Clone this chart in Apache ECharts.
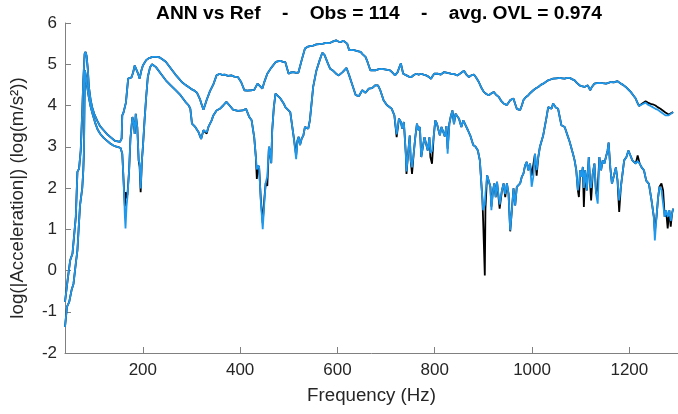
<!DOCTYPE html>
<html>
<head>
<meta charset="utf-8">
<script src="https://cdn.jsdelivr.net/npm/echarts@6/dist/echarts.min.js"></script>
<style>
  html, body { margin: 0; padding: 0; background: #ffffff; }
  #chart { width: 678px; height: 414px; }
</style>
</head>
<body>
<div id="chart"></div>
<script>
// Upper response curve: frequency (Hz), reference and ANN prediction, log10 |acceleration|
const freqUpper = [40, 45.3, 50.7, 55.4, 62.2, 65.5, 68.9, 72.3, 75.6, 77.6, 80.3, 82.3, 84.4, 87.1, 89.1, 92.5, 95.8, 100, 105.9, 112, 119.4, 126, 132.9, 143, 153, 156.4, 157.7, 160, 163.1, 165.2, 169.8, 176.6, 180, 183.3, 186.7, 190, 193.4, 197, 200.1, 206.8, 213, 220.3, 227, 233.8, 240, 247.2, 253, 260.7, 267, 274.2, 280, 287.5, 294, 301, 306, 311.2, 317.8, 321, 324.6, 328, 331.3, 338, 344.9, 351.5, 358.2, 363, 368.3, 375, 381.8, 388, 395.3, 402, 408.7, 415, 422.2, 428.9, 435.7, 439, 445.7, 450, 455.8, 463, 472.7, 477, 482.8, 488, 492.9, 496, 499.6, 504, 509.7, 515, 519.8, 526.5, 533.2, 538, 543.3, 550, 556.8, 563, 570.3, 577, 583.7, 590, 597.2, 602, 607.3, 612, 616, 620, 624.1, 629, 634.2, 641, 647.6, 652, 657.7, 662, 667.8, 672, 677.9, 685, 691.4, 700, 708.2, 713, 718.3, 723.7, 727, 730.4, 733, 735.1, 741.9, 747, 752, 757, 762.1, 767, 772.2, 777, 782.2, 787, 792.3, 796, 799, 805.8, 812.5, 819.4, 826, 833, 840, 846.5, 853, 860.1, 865, 870.3, 875, 880.5, 885, 890.6, 895, 900.8, 906, 911, 916, 921.2, 926, 931.4, 936, 941.5, 948.3, 955.1, 961.9, 965, 968.7, 975.5, 979, 982.3, 987, 992.4, 997, 1002.6, 1008, 1012.8, 1018, 1023, 1028, 1033.2, 1038, 1043.3, 1050, 1056.9, 1062, 1067.1, 1072, 1077.3, 1082, 1087.5, 1092, 1097.6, 1102, 1107.8, 1111, 1114.6, 1119.4, 1123, 1128.2, 1133, 1138.4, 1145, 1152, 1157, 1162.1, 1168, 1175.7, 1182.5, 1187, 1192.7, 1197, 1202.8, 1208, 1213, 1216, 1219.8, 1226.6, 1233.4, 1238, 1243.6, 1248, 1253.7, 1258, 1263.9, 1268, 1274.1, 1278, 1280.9, 1285, 1290];
const refUpper = [-0.76, -0.24, 0.25, 0.41, 1.30, 2.39, 2.47, 2.91, 3.90, 4.60, 5.25, 5.30, 5.20, 4.85, 4.45, 4.15, 3.96, 3.80, 3.64, 3.50, 3.40, 3.31, 3.24, 3.14, 3.12, 3.20, 3.76, 3.82, 3.80, 4.07, 4.65, 4.68, 4.80, 4.97, 4.93, 4.78, 4.65, 4.85, 4.97, 5.10, 5.15, 5.18, 5.18, 5.17, 5.12, 5.06, 4.97, 4.85, 4.75, 4.65, 4.57, 4.50, 4.45, 4.39, 4.36, 4.31, 4.14, 4.02, 3.90, 4.02, 4.14, 4.35, 4.51, 4.73, 4.77, 4.74, 4.75, 4.72, 4.73, 4.70, 4.69, 4.57, 4.37, 4.36, 4.37, 4.38, 4.53, 4.49, 4.41, 4.58, 4.77, 4.90, 5.05, 5.07, 5.08, 5.06, 5.05, 4.92, 4.77, 4.80, 4.81, 4.79, 4.80, 5.10, 5.38, 5.42, 5.44, 5.45, 5.48, 5.49, 5.50, 5.52, 5.51, 5.55, 5.58, 5.55, 5.54, 5.57, 5.56, 5.50, 5.34, 5.35, 5.34, 5.32, 5.30, 5.24, 5.18, 5.05, 4.85, 4.86, 4.85, 4.88, 4.89, 4.87, 4.85, 4.80, 4.73, 4.81, 4.92, 5.02, 4.88, 4.77, 4.73, 4.70, 4.69, 4.74, 4.77, 4.75, 4.77, 4.75, 4.73, 4.70, 4.65, 4.72, 4.77, 4.77, 4.75, 4.81, 4.79, 4.77, 4.76, 4.73, 4.78, 4.84, 4.75, 4.69, 4.73, 4.75, 4.68, 4.57, 4.45, 4.33, 4.28, 4.25, 4.29, 4.33, 4.26, 4.21, 4.12, 4.05, 4.01, 4.13, 4.17, 4.05, 3.92, 3.89, 4.00, 4.13, 4.20, 4.25, 4.31, 4.37, 4.42, 4.45, 4.50, 4.53, 4.57, 4.61, 4.63, 4.65, 4.66, 4.67, 4.66, 4.65, 4.67, 4.67, 4.64, 4.61, 4.55, 4.49, 4.47, 4.45, 4.47, 4.49, 4.37, 4.45, 4.53, 4.54, 4.55, 4.54, 4.53, 4.55, 4.57, 4.56, 4.59, 4.53, 4.50, 4.45, 4.40, 4.33, 4.25, 4.17, 4.08, 3.99, 4.05, 4.10, 4.07, 4.04, 4.03, 4.00, 3.96, 3.92, 3.88, 3.83, 3.80, 3.78, 3.80, 3.84];
const annUpper = [-0.76, -0.24, 0.25, 0.41, 1.30, 2.39, 2.47, 2.91, 3.90, 4.60, 5.25, 5.30, 5.20, 4.85, 4.45, 4.15, 3.96, 3.80, 3.64, 3.50, 3.40, 3.31, 3.24, 3.14, 3.12, 3.20, 3.76, 3.82, 3.80, 4.07, 4.65, 4.68, 4.80, 4.97, 4.93, 4.78, 4.65, 4.85, 4.97, 5.10, 5.15, 5.18, 5.18, 5.17, 5.12, 5.06, 4.97, 4.85, 4.75, 4.65, 4.57, 4.50, 4.45, 4.39, 4.36, 4.31, 4.14, 4.02, 3.90, 4.02, 4.14, 4.35, 4.51, 4.73, 4.77, 4.74, 4.75, 4.72, 4.73, 4.70, 4.69, 4.57, 4.37, 4.36, 4.37, 4.38, 4.53, 4.49, 4.41, 4.58, 4.77, 4.90, 5.05, 5.07, 5.08, 5.06, 5.05, 4.92, 4.77, 4.80, 4.81, 4.79, 4.80, 5.10, 5.38, 5.42, 5.44, 5.45, 5.48, 5.49, 5.50, 5.52, 5.51, 5.55, 5.58, 5.55, 5.54, 5.57, 5.56, 5.50, 5.34, 5.35, 5.34, 5.32, 5.30, 5.24, 5.18, 5.05, 4.85, 4.86, 4.85, 4.88, 4.89, 4.87, 4.85, 4.80, 4.73, 4.81, 4.92, 5.02, 4.88, 4.77, 4.73, 4.70, 4.69, 4.74, 4.77, 4.75, 4.77, 4.75, 4.73, 4.70, 4.65, 4.72, 4.77, 4.77, 4.75, 4.81, 4.79, 4.77, 4.76, 4.73, 4.78, 4.84, 4.75, 4.69, 4.73, 4.75, 4.68, 4.57, 4.45, 4.33, 4.28, 4.25, 4.29, 4.33, 4.26, 4.21, 4.12, 4.05, 4.01, 4.13, 4.17, 4.05, 3.92, 3.89, 4.00, 4.13, 4.20, 4.25, 4.31, 4.37, 4.42, 4.45, 4.50, 4.53, 4.57, 4.61, 4.63, 4.65, 4.66, 4.67, 4.66, 4.65, 4.67, 4.67, 4.64, 4.61, 4.55, 4.49, 4.47, 4.45, 4.47, 4.49, 4.37, 4.45, 4.53, 4.54, 4.55, 4.54, 4.53, 4.55, 4.57, 4.56, 4.59, 4.53, 4.50, 4.45, 4.40, 4.33, 4.25, 4.17, 4.08, 3.99, 4.03, 4.07, 4.02, 3.99, 3.96, 3.92, 3.90, 3.85, 3.82, 3.76, 3.77, 3.76, 3.79, 3.84];

// Lower response curve: frequency (Hz), reference and ANN prediction
const freqLower = [40, 44, 48.7, 53.4, 57.5, 62.2, 65.5, 68, 70.9, 73.6, 75.5, 77.6, 79, 80, 81, 83, 85.7, 89, 92.5, 97, 102.6, 107, 112.7, 119, 126, 133, 139.5, 144, 149.6, 154.3, 157.7, 159.7, 161.5, 163.1, 164.4, 166.4, 168.4, 171.8, 174.5, 176.6, 178.5, 181.3, 183.3, 185.4, 188.6, 191.4, 193.4, 195.5, 198.1, 200.1, 203.5, 206.8, 210.2, 214.9, 218.9, 227, 237.1, 247.2, 257.3, 267.4, 277.4, 287.5, 294.4, 297.6, 301, 307.7, 314.6, 319.8, 324.6, 327.9, 331.3, 334.8, 341.4, 344.9, 348.1, 351.5, 358.2, 365.1, 371.7, 378.4, 385.3, 395.3, 405.4, 412.1, 418.8, 423.6, 428.9, 432.3, 434.3, 437, 439, 442.4, 446.4, 449.5, 452.5, 455.8, 459.2, 461.2, 463.9, 465.9, 469.3, 472.7, 476, 482.8, 489.5, 492.9, 496.2, 503, 506.3, 509.7, 513, 515.1, 517.8, 520.4, 523.1, 526.5, 529.9, 533.2, 536.6, 540, 543.3, 546.7, 550.1, 556.8, 563.5, 568.9, 573.6, 580.3, 585.1, 590.4, 597.2, 602.6, 610.6, 618.7, 624.1, 630.8, 637.6, 644.3, 651, 657.7, 664.5, 671.2, 677.9, 683.3, 688, 694.8, 701.5, 711.6, 717, 721.7, 726.4, 730.4, 733.1, 736.5, 740.5, 741.9, 745.2, 748.6, 750.6, 753.3, 756.7, 760, 763.4, 766.8, 769.5, 772.2, 775.5, 778.9, 782.2, 785.6, 789, 791, 794.4, 797.7, 801.1, 804.5, 807.8, 810.5, 813.9, 818, 820.7, 824, 826.5, 830, 832.7, 836.3, 839.5, 842.8, 846.2, 849.9, 854.7, 858.7, 863.5, 868.2, 873.7, 879.1, 883.9, 888.6, 892.7, 895.4, 898.1, 899.5, 902.9, 904.2, 907.6, 911, 914.4, 916.4, 919.8, 922.5, 925.3, 928, 930.7, 933.4, 938.1, 941.5, 944.9, 948.3, 951.7, 955.1, 958.5, 961.9, 965.3, 968.7, 972.1, 975.5, 978.9, 982.3, 985.7, 989.1, 992.4, 995.8, 999.2, 1002.6, 1006, 1009.4, 1012.8, 1016.2, 1023, 1029.8, 1033.2, 1036.6, 1040, 1043.3, 1048.8, 1053.5, 1056.9, 1060.3, 1067.1, 1073.9, 1077.3, 1080.7, 1084.1, 1087.5, 1090.9, 1094.2, 1096.3, 1099, 1101.7, 1104.4, 1106.5, 1109.2, 1112.6, 1116.6, 1119.4, 1121.4, 1124.8, 1128.2, 1131.6, 1135, 1138.4, 1141.8, 1145.2, 1148.5, 1151.9, 1155.3, 1157.4, 1160.8, 1164.2, 1167.5, 1172.3, 1175.7, 1179.1, 1182.5, 1185.9, 1189.3, 1194, 1198.1, 1202.2, 1206.2, 1209.6, 1213, 1217.1, 1221.2, 1225.2, 1230, 1234.7, 1240.2, 1245.6, 1250.3, 1252.4, 1255.8, 1259.2, 1261.9, 1266, 1269.4, 1272.7, 1275.5, 1278.8, 1282.2, 1285, 1287.7, 1290];
const refLower = [-1.37, -0.88, -0.76, -0.48, -0.32, 0.17, 0.49, 1.00, 1.58, 1.62, 2.00, 2.43, 2.91, 4.00, 4.85, 4.70, 4.45, 4.20, 3.98, 3.78, 3.56, 3.42, 3.31, 3.22, 3.15, 3.08, 3.03, 3.01, 2.99, 2.97, 2.83, 2.35, 1.90, 1.55, 1.90, 1.75, 1.85, 2.43, 3.20, 3.47, 3.72, 3.56, 3.31, 3.80, 3.47, 2.67, 2.51, 1.90, 2.67, 2.99, 3.64, 4.20, 4.69, 4.93, 5.00, 4.93, 4.77, 4.61, 4.49, 4.37, 4.25, 4.09, 4.00, 3.92, 3.56, 3.48, 3.35, 3.19, 3.40, 3.44, 3.32, 3.48, 3.64, 3.76, 3.72, 3.88, 3.92, 4.00, 4.09, 4.00, 3.90, 3.87, 3.88, 3.92, 3.72, 3.64, 3.23, 2.75, 2.22, 2.55, 2.50, 1.75, 1.15, 1.70, 2.12, 2.05, 3.00, 2.90, 2.60, 3.40, 3.96, 4.29, 4.25, 4.17, 4.05, 3.96, 4.00, 3.84, 3.88, 3.27, 3.23, 2.79, 3.15, 3.24, 3.04, 3.20, 3.27, 3.48, 3.52, 3.44, 3.64, 4.04, 4.45, 4.85, 5.10, 5.28, 5.22, 5.02, 4.89, 4.85, 4.77, 4.73, 4.81, 4.91, 4.73, 4.49, 4.25, 4.23, 4.37, 4.31, 4.41, 4.42, 4.49, 4.49, 4.37, 4.13, 4.01, 3.92, 3.76, 3.23, 3.68, 3.60, 3.44, 3.60, 2.83, 2.34, 2.83, 3.27, 2.67, 2.34, 2.83, 3.23, 3.56, 3.40, 3.48, 2.75, 2.99, 3.23, 3.07, 2.91, 3.23, 2.75, 2.59, 3.23, 3.64, 3.56, 3.40, 3.28, 3.48, 3.48, 3.25, 3.50, 2.95, 3.56, 3.72, 3.88, 3.55, 3.80, 3.84, 3.68, 3.48, 3.64, 3.52, 3.40, 3.25, 3.04, 3.00, 2.91, 2.67, 2.18, 1.70, 1.20, -0.12, 1.50, 2.31, 2.27, 2.03, 1.55, 1.94, 2.11, 1.78, 2.15, 2.19, 1.50, 1.94, 2.11, 1.78, 2.11, 1.86, 0.95, 1.46, 1.99, 1.58, 2.03, 1.99, 2.11, 2.27, 2.35, 2.55, 2.63, 2.43, 2.59, 2.30, 2.27, 2.83, 2.30, 2.75, 3.00, 3.28, 3.72, 3.96, 4.00, 3.92, 4.05, 3.95, 3.92, 3.72, 3.52, 3.48, 3.24, 3.12, 3.16, 2.83, 2.67, 2.43, 1.94, 1.78, 2.43, 2.27, 2.51, 1.54, 2.43, 1.94, 2.75, 2.11, 1.70, 2.35, 2.59, 1.86, 2.00, 2.75, 2.43, 2.67, 2.59, 2.75, 2.91, 3.10, 2.50, 2.10, 2.26, 2.50, 2.18, 1.42, 2.02, 2.34, 2.67, 2.75, 2.91, 2.95, 2.67, 2.63, 2.59, 2.79, 2.59, 2.50, 2.43, 2.18, 2.10, 1.70, 1.30, 0.95, 1.30, 1.78, 2.03, 2.11, 1.94, 1.30, 1.46, 1.02, 1.46, 1.06, 1.38, 1.50];
const annLower = [-1.37, -0.88, -0.76, -0.48, -0.32, 0.17, 0.49, 1.00, 1.58, 1.62, 2.00, 2.43, 2.91, 4.00, 4.85, 4.70, 4.45, 4.20, 3.98, 3.78, 3.56, 3.42, 3.31, 3.22, 3.15, 3.08, 3.03, 3.01, 2.99, 2.97, 2.83, 2.35, 1.85, 1.30, 1.02, 1.54, 1.79, 2.43, 3.20, 3.47, 3.72, 3.56, 3.31, 3.80, 3.47, 2.67, 2.60, 1.99, 2.67, 2.99, 3.64, 4.20, 4.69, 4.93, 5.00, 4.93, 4.77, 4.61, 4.49, 4.37, 4.25, 4.09, 4.00, 3.92, 3.56, 3.48, 3.35, 3.19, 3.40, 3.44, 3.35, 3.48, 3.64, 3.76, 3.72, 3.88, 3.92, 4.00, 4.09, 4.00, 3.90, 3.87, 3.88, 3.92, 3.72, 3.64, 3.23, 2.75, 2.45, 2.55, 2.50, 1.70, 1.00, 1.60, 2.12, 2.28, 3.00, 2.90, 2.60, 3.40, 3.96, 4.29, 4.25, 4.17, 4.05, 3.96, 4.00, 3.84, 3.88, 3.27, 3.23, 2.70, 3.15, 3.24, 3.04, 3.20, 3.27, 3.48, 3.52, 3.44, 3.64, 4.04, 4.45, 4.85, 5.10, 5.28, 5.22, 5.02, 4.89, 4.85, 4.77, 4.73, 4.81, 4.91, 4.73, 4.49, 4.25, 4.23, 4.37, 4.31, 4.41, 4.42, 4.49, 4.49, 4.37, 4.13, 4.01, 3.92, 3.76, 3.30, 3.68, 3.60, 3.44, 3.60, 2.83, 2.40, 2.83, 3.27, 2.67, 2.50, 2.83, 3.23, 3.56, 3.40, 3.48, 2.75, 2.99, 3.23, 3.07, 2.91, 3.23, 2.85, 2.90, 3.23, 3.64, 3.56, 3.40, 3.28, 3.48, 3.48, 3.25, 3.50, 2.83, 3.56, 3.72, 3.88, 3.55, 3.80, 3.84, 3.68, 3.48, 3.64, 3.52, 3.40, 3.25, 3.04, 3.00, 2.91, 2.67, 2.18, 1.70, 1.46, 1.60, 1.86, 2.31, 2.27, 2.03, 1.46, 1.94, 2.11, 1.78, 2.15, 2.19, 1.60, 1.94, 2.11, 1.85, 2.11, 1.86, 0.97, 1.46, 1.99, 1.58, 2.03, 1.99, 2.11, 2.27, 2.35, 2.55, 2.63, 2.43, 2.59, 2.03, 2.27, 2.83, 2.43, 2.75, 3.00, 3.28, 3.72, 3.96, 4.00, 3.92, 4.05, 3.95, 3.92, 3.72, 3.52, 3.48, 3.24, 3.12, 3.16, 2.83, 2.67, 2.43, 1.94, 2.10, 2.43, 2.27, 2.51, 2.00, 2.43, 1.94, 2.75, 2.11, 2.00, 2.35, 2.59, 1.86, 1.62, 2.75, 2.43, 2.67, 2.59, 2.75, 2.91, 3.10, 2.50, 2.10, 2.26, 2.50, 2.18, 1.70, 2.02, 2.34, 2.67, 2.75, 2.91, 2.95, 2.67, 2.63, 2.59, 2.65, 2.59, 2.50, 2.43, 2.18, 2.10, 1.70, 1.30, 0.73, 1.30, 1.78, 2.03, 1.95, 1.94, 1.30, 1.46, 1.30, 1.46, 1.20, 1.38, 1.50];

// Axis ticks
const xTicks = [200, 400, 600, 800, 1000, 1200];
const yTicks = [-2, -1, 0, 1, 2, 3, 4, 5, 6];

const titleText = 'ANN vs Ref    -    Obs = 114    -    avg. OVL = 0.974';

const REF_COLOR = '#000000';
const ANN_COLOR = '#1e98ec';
const FONT = '"Liberation Sans", Arial, Helvetica, sans-serif';
const TEXT_COLOR = '#262626';
const AXIS_COLOR = '#808080';

const pairs = (xs, ys) => xs.map((x, i) => [x, ys[i]]);

const lineSeries = (name, xs, ys, color) => ({
  name: name,
  type: 'line',
  data: pairs(xs, ys),
  showSymbol: false,
  symbol: 'none',
  smooth: false,
  clip: true,
  lineStyle: { color: color, width: 1.8 },
  emphasis: { disabled: true }
});

const chart = echarts.init(document.getElementById('chart'), null, { renderer: 'canvas' });

chart.setOption({
  animation: false,
  backgroundColor: '#ffffff',
  title: {
    text: titleText,
    left: 374,
    textAlign: 'center',
    top: -1,
    textStyle: { fontFamily: FONT, fontSize: 19.2, fontWeight: 'bold', color: '#000000' }
  },
  grid: { left: 61, top: 23, width: 624, height: 330, containLabel: false },
  xAxis: {
    type: 'value',
    min: 40,
    max: 1300,
    name: 'Frequency (Hz)',
    nameLocation: 'middle',
    nameGap: 33,
    nameTextStyle: { fontFamily: FONT, fontSize: 18.7, color: TEXT_COLOR },
    axisLine: { show: true, onZero: false, lineStyle: { color: AXIS_COLOR, width: 1 } },
    axisTick: { show: true, inside: true, length: 6, customValues: xTicks, lineStyle: { color: AXIS_COLOR } },
    axisLabel: {
      customValues: xTicks,
      margin: 9,
      fontFamily: FONT,
      fontSize: 17,
      color: TEXT_COLOR,
      formatter: (v) => String(v)
    },
    splitLine: { show: false }
  },
  yAxis: {
    type: 'value',
    min: yTicks[0],
    max: yTicks[yTicks.length - 1],
    interval: 1,
    name: 'log(|Acceleration|) (log(m/s²))',
    nameLocation: 'middle',
    nameRotate: 90,
    nameGap: 38,
    nameTextStyle: { fontFamily: FONT, fontSize: 18.7, color: TEXT_COLOR, padding: [0, 20, 0, 0] },
    axisLine: { show: true, onZero: false, lineStyle: { color: AXIS_COLOR, width: 1 } },
    axisTick: { show: true, inside: true, length: 6, lineStyle: { color: AXIS_COLOR } },
    axisLabel: { margin: 8, fontFamily: FONT, fontSize: 17, color: TEXT_COLOR, formatter: (v) => String(v) },
    splitLine: { show: false }
  },
  series: [
    lineSeries('Ref', freqUpper, refUpper, REF_COLOR),
    lineSeries('Ref', freqLower, refLower, REF_COLOR),
    lineSeries('ANN', freqUpper, annUpper, ANN_COLOR),
    lineSeries('ANN', freqLower, annLower, ANN_COLOR)
  ]
});
</script>
</body>
</html>
